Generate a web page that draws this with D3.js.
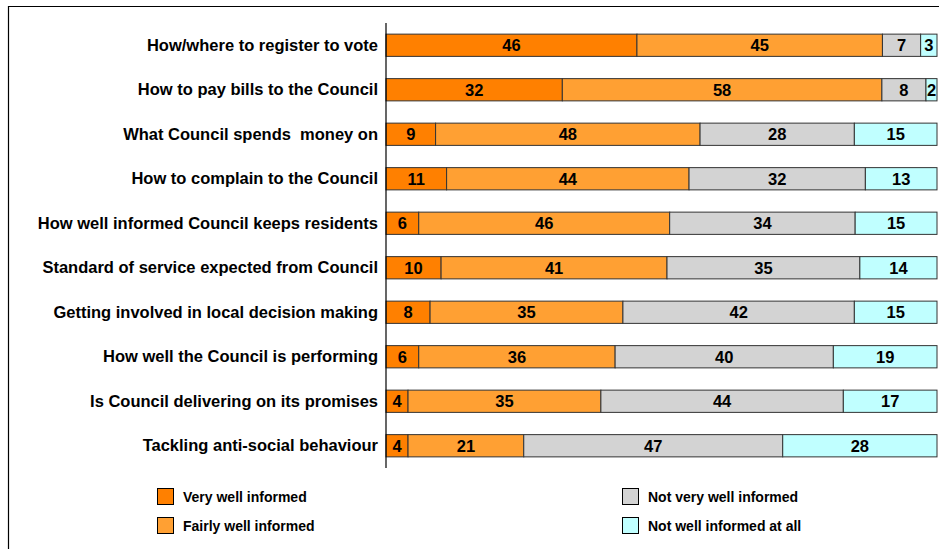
<!DOCTYPE html>
<html>
<head>
<meta charset="utf-8">
<script src="https://cdn.jsdelivr.net/npm/d3@7"></script>
<style>
  html, body { margin: 0; padding: 0; background: #fff; }
  svg { display: block; font-family: "Liberation Sans", Arial, sans-serif; }
</style>
</head>
<body>
<svg id="chart" width="939" height="549"></svg>
<script>
// Survey topics, top to bottom
const categories = [
  "How/where to register to vote",
  "How to pay bills to the Council",
  "What Council spends  money on",
  "How to complain to the Council",
  "How well informed Council keeps residents",
  "Standard of service expected from Council",
  "Getting involved in local decision making",
  "How well the Council is performing",
  "Is Council delivering on its promises",
  "Tackling anti-social behaviour"
];

// Response series (percent)
const seriesNames = [
  "Very well informed",
  "Fairly well informed",
  "Not very well informed",
  "Not well informed at all"
];
const veryWell     = [46, 32, 9, 11, 6, 10, 8, 6, 4, 4];
const fairlyWell   = [45, 58, 48, 44, 46, 41, 35, 36, 35, 21];
const notVeryWell  = [7, 8, 28, 32, 34, 35, 42, 40, 44, 47];
const notAtAll     = [3, 2, 15, 13, 15, 14, 15, 19, 17, 28];

const colors = ["#FF8000", "#FFA033", "#D3D3D3", "#C0FFFF"];

const svg = d3.select("#chart");
const W = 939, H = 549;

// outer frame (runs off the right and bottom edges)
svg.append("path")
  .attr("d", `M8.5,${H + 2} V6.5 H${W + 2}`)
  .attr("fill", "none").attr("stroke", "#000").attr("stroke-width", 1.2);

const plot = { left: 386, right: 937, top: 23, bottom: 468 };

// 100% stacked rows: each value expressed as a share of its row total
const rows = categories.map((c, i) => {
  const vals = [veryWell[i], fairlyWell[i], notVeryWell[i], notAtAll[i]];
  const total = d3.sum(vals);
  let acc = 0;
  return {
    cat: c,
    segs: vals.map((v, k) => {
      const s = { key: k, value: v, x0: acc / total, x1: (acc + v) / total };
      acc += v;
      return s;
    })
  };
});

const x = d3.scaleLinear().domain([0, 1]).range([plot.left, plot.right]);
const y = d3.scaleBand().domain(categories).range([plot.top, plot.bottom]).paddingInner(0.5).paddingOuter(0.25);

const rowG = svg.append("g").selectAll("g").data(rows).join("g")
  .attr("transform", d => `translate(0,${y(d.cat)})`);

rowG.selectAll("rect").data(d => d.segs).join("rect")
  .attr("x", d => x(d.x0))
  .attr("width", d => x(d.x1) - x(d.x0))
  .attr("y", 0)
  .attr("height", y.bandwidth())
  .attr("fill", d => colors[d.key])
  .attr("stroke", "#333")
  .attr("stroke-width", 1);

rowG.selectAll("text").data(d => d.segs).join("text")
  .attr("x", d => (x(d.x0) + x(d.x1)) / 2)
  .attr("y", y.bandwidth() / 2)
  .attr("dy", "0.36em")
  .attr("text-anchor", "middle")
  .attr("font-size", 16.5)
  .attr("font-weight", "bold")
  .attr("fill", "#000")
  .text(d => d.value);

// category axis
const yAxis = d3.axisLeft(y).tickSize(0).tickPadding(8);
const ag = svg.append("g").attr("transform", `translate(${plot.left},0)`).call(yAxis);
ag.select(".domain").attr("stroke", "#000").attr("stroke-width", 1.2)
  .attr("d", `M0,${plot.top}V${plot.bottom}`);
ag.selectAll(".tick text")
  .attr("font-size", 16.5)
  .attr("font-weight", "bold")
  .attr("font-family", "Liberation Sans, Arial, sans-serif")
  .attr("fill", "#000")
  .style("white-space", "pre");

// legend
const legendPos = [[157, 488], [157, 517], [622, 488], [622, 517]];
const lg = svg.append("g").selectAll("g").data(seriesNames).join("g")
  .attr("transform", (d, i) => `translate(${legendPos[i][0]},${legendPos[i][1]})`);
lg.append("rect")
  .attr("x", 0.5).attr("y", 0.5).attr("width", 16).attr("height", 16)
  .attr("fill", (d, i) => colors[i]).attr("stroke", "#000").attr("stroke-width", 1);
lg.append("text")
  .attr("x", 26).attr("y", 8.5).attr("dy", "0.36em")
  .attr("font-size", 14).attr("font-weight", "bold").attr("fill", "#000")
  .text(d => d);
</script>
</body>
</html>
